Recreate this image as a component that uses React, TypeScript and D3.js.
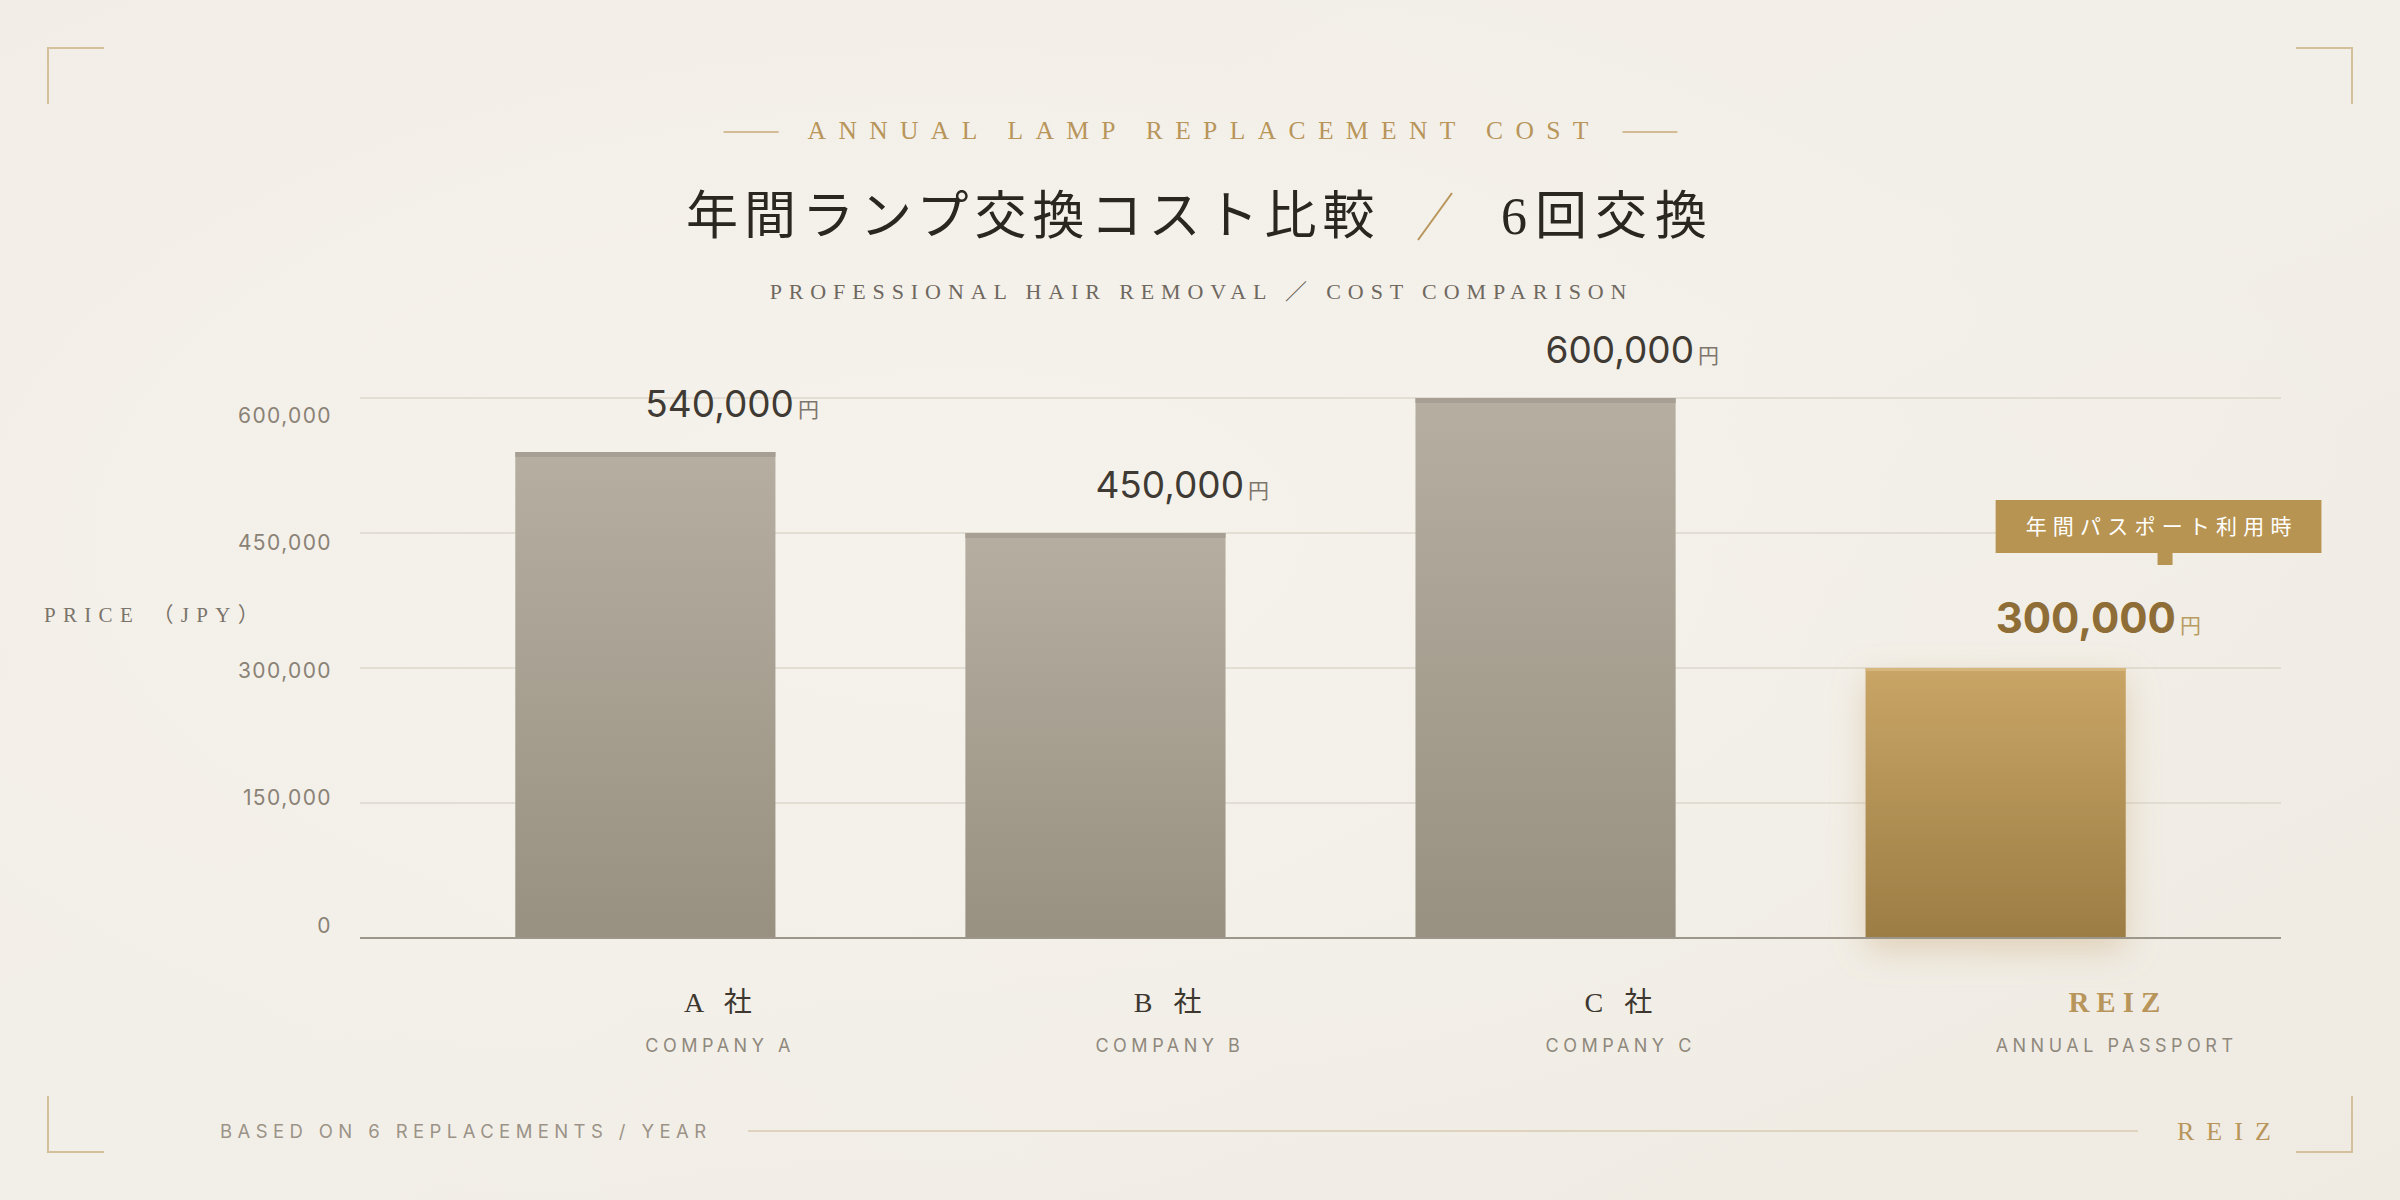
import React, { useEffect, useRef } from 'react';
import * as d3 from 'd3';

const categories = ['A 社', 'B 社', 'C 社', 'REIZ'];
const subLabels = ['COMPANY A', 'COMPANY B', 'COMPANY C', 'ANNUAL PASSPORT'];
const values = [540000, 450000, 600000, 300000];
const highlight = [false, false, false, true];
const yTicks = [0, 150000, 300000, 450000, 600000];
const unit = '円';
const badgeText = '年間パスポート利用時';
const eyebrow = 'ANNUAL LAMP REPLACEMENT COST';
const titleMain = '年間ランプ交換コスト比較';
const titleSub = '6回交換';
const subtitle = 'PROFESSIONAL HAIR REMOVAL ／ COST COMPARISON';
const yAxisTitle = 'PRICE （JPY）';
const footnote = 'BASED ON 6 REPLACEMENTS / YEAR';
const brand = 'REIZ';

const SANS = "Inter, 'Noto Sans CJK JP', sans-serif";
const SERIF = "'Liberation Serif', 'DejaVu Serif', 'Noto Sans CJK JP', serif";
const GOLD = '#b8955a';

export default function App() {
  const ref = useRef<SVGSVGElement>(null);

  useEffect(() => {
    const W = 2400;
    const H = 1200;
    const svg = d3.select(ref.current as SVGSVGElement);
    svg.selectAll('*').remove();

    const defs = svg.append('defs');
    const bg = defs.append('linearGradient').attr('id', 'bg').attr('x1', 0).attr('y1', 0).attr('x2', 1).attr('y2', 1);
    bg.append('stop').attr('offset', '0%').attr('stop-color', '#f2eee7');
    bg.append('stop').attr('offset', '50%').attr('stop-color', '#f2efe8');
    bg.append('stop').attr('offset', '100%').attr('stop-color', '#efebe3');
    const glow = defs.append('radialGradient').attr('id', 'glow').attr('cx', '40%').attr('cy', '45%').attr('r', '60%');
    glow.append('stop').attr('offset', '0%').attr('stop-color', '#f6f3ed').attr('stop-opacity', 0.8);
    glow.append('stop').attr('offset', '100%').attr('stop-color', '#f6f3ed').attr('stop-opacity', 0);

    const grayGrad = defs.append('linearGradient').attr('id', 'grayGrad').attr('x1', 0).attr('y1', 0).attr('x2', 0).attr('y2', 1);
    grayGrad.append('stop').attr('offset', '0%').attr('stop-color', '#b6aea1');
    grayGrad.append('stop').attr('offset', '100%').attr('stop-color', '#989181');
    const goldGrad = defs.append('linearGradient').attr('id', 'goldGrad').attr('x1', 0).attr('y1', 0).attr('x2', 0).attr('y2', 1);
    goldGrad.append('stop').attr('offset', '0%').attr('stop-color', '#c9a566');
    goldGrad.append('stop').attr('offset', '100%').attr('stop-color', '#9c7d44');
    const f = defs.append('filter').attr('id', 'goldShadow').attr('x', '-40%').attr('y', '-30%').attr('width', '180%').attr('height', '160%');
    f.append('feDropShadow').attr('dx', 0).attr('dy', 12).attr('stdDeviation', 17)
      .attr('flood-color', '#c4a06a').attr('flood-opacity', 0.38);

    svg.append('rect').attr('width', W).attr('height', H).attr('fill', 'url(#bg)');
    svg.append('rect').attr('width', W).attr('height', H).attr('fill', 'url(#glow)');

    // corner brackets
    const cornerColor = '#d4c19c';
    const cs = 56;
    const corners: [number, number, number, number][] = [
      [48, 48, 1, 1], [2352, 48, -1, 1], [48, 1152, 1, -1], [2352, 1152, -1, -1],
    ];
    svg.append('g').selectAll('path').data(corners).join('path')
      .attr('d', d => `M${d[0] + d[2] * cs},${d[1]} L${d[0]},${d[1]} L${d[0]},${d[1] + d[3] * cs}`)
      .attr('fill', 'none').attr('stroke', cornerColor).attr('stroke-width', 2);

    // Eyebrow
    const eyeLs = 12.4;
    const eye = svg.append('text').attr('x', 1198 + eyeLs / 2).attr('y', 130)
      .attr('text-anchor', 'middle').attr('dominant-baseline', 'central')
      .attr('font-family', SERIF).attr('font-size', 25.5).attr('letter-spacing', eyeLs)
      .attr('fill', GOLD).text(eyebrow);
    const ew = (eye.node() as SVGTextElement).getComputedTextLength() - eyeLs;
    const eStart = 1198 - ew / 2;
    const eEnd = 1198 + ew / 2;
    svg.append('line').attr('x1', eStart - 84).attr('x2', eStart - 29).attr('y1', 132).attr('y2', 132)
      .attr('stroke', '#c8ab78').attr('stroke-width', 1.5);
    svg.append('line').attr('x1', eEnd + 34).attr('x2', eEnd + 89).attr('y1', 132).attr('y2', 132)
      .attr('stroke', '#c8ab78').attr('stroke-width', 1.5);

    // Title
    svg.append('text').attr('x', 686).attr('y', 234)
      .attr('font-family', SERIF).attr('font-size', 52).attr('letter-spacing', 6)
      .attr('fill', '#2a2620').text(titleMain);
    svg.append('line').attr('x1', 1418).attr('y1', 240).attr('x2', 1452).attr('y2', 193)
      .attr('stroke', GOLD).attr('stroke-width', 2);
    svg.append('text').attr('x', 1501).attr('y', 234)
      .attr('font-family', SERIF).attr('font-size', 52).attr('letter-spacing', 8)
      .attr('fill', '#2a2620').text(titleSub);

    // Subtitle
    svg.append('text').attr('x', 1198 + 3.5).attr('y', 291)
      .attr('text-anchor', 'middle').attr('dominant-baseline', 'central')
      .attr('font-family', SERIF).attr('font-size', 22).attr('letter-spacing', 6.9)
      .attr('fill', '#6f685f').text(subtitle);

    // Scales
    const x = d3.scaleBand<string>().domain(categories).range([360, 2281]).paddingInner(0.422).paddingOuter(0.345);
    const y = d3.scaleLinear().domain([0, 600000]).range([938, 398]);
    const yLabel = d3.scaleLinear().domain([0, 600000]).range([925, 415]);
    const bw = x.bandwidth();
    const fmt = d3.format(',');

    // grid
    svg.append('g').selectAll('line').data(yTicks.filter(t => t > 0)).join('line')
      .attr('x1', 360).attr('x2', 2281).attr('y1', d => y(d)).attr('y2', d => y(d))
      .attr('stroke', '#ddd7cd').attr('stroke-width', 1.5);

    // tick labels
    svg.append('g').selectAll('text').data(yTicks).join('text')
      .attr('x', 332).attr('y', d => yLabel(d))
      .attr('text-anchor', 'end').attr('dominant-baseline', 'central')
      .attr('font-family', SANS).attr('font-size', 21).attr('letter-spacing', 1.4)
      .attr('fill', '#8a8276').text(d => fmt(d));

    // y axis title
    svg.append('text').attr('x', 44).attr('y', 615).attr('dominant-baseline', 'central')
      .attr('font-family', SERIF).attr('font-size', 21).attr('letter-spacing', 7.3)
      .attr('fill', '#7b746a').text(yAxisTitle);

    // bars
    const bars = svg.append('g');
    values.forEach((v, i) => {
      const c = categories[i];
      const bx = x(c) as number;
      const top = y(v);
      const hi = highlight[i];
      bars.append('rect').attr('x', bx).attr('y', top).attr('width', bw).attr('height', y(0) - top)
        .attr('fill', hi ? 'url(#goldGrad)' : 'url(#grayGrad)')
        .attr('filter', hi ? 'url(#goldShadow)' : null);
      bars.append('rect').attr('x', bx).attr('y', top).attr('width', bw).attr('height', hi ? 3 : 5)
        .attr('fill', hi ? '#d5b77e' : '#a79f93');
    });

    // baseline
    svg.append('line').attr('x1', 360).attr('x2', 2281).attr('y1', y(0)).attr('y2', y(0))
      .attr('stroke', '#9d968b').attr('stroke-width', 2);

    // value labels
    values.forEach((v, i) => {
      const c = categories[i];
      const cx = (x(c) as number) + bw / 2;
      const hi = highlight[i];
      const t = svg.append('text').attr('x', cx).attr('y', y(v) - 35).attr('font-family', SANS);
      t.append('tspan').attr('font-size', hi ? 42 : 37).attr('font-weight', hi ? 700 : 400)
        .attr('fill', hi ? '#8e6d37' : '#3f3a33').text(fmt(v));
      t.append('tspan').attr('dx', 4).attr('font-size', 21)
        .attr('fill', hi ? '#b99b64' : '#7d766c').text(unit);
    });

    // badge
    const hiIdx = highlight.indexOf(true);
    if (hiIdx >= 0) {
      const c = categories[hiIdx];
      const bx0 = (x(c) as number) + bw / 2;
      const boxTop = y(values[hiIdx]) - 168;
      const boxH = 53;
      const g = svg.append('g');
      const rect = g.append('rect').attr('x', bx0).attr('y', boxTop).attr('height', boxH).attr('fill', '#b89452');
      const ls = 6.2;
      const tt = g.append('text').attr('y', boxTop + boxH / 2).attr('text-anchor', 'middle')
        .attr('dominant-baseline', 'central').attr('font-family', SERIF).attr('font-size', 21)
        .attr('letter-spacing', ls).attr('fill', '#ffffff').text(badgeText);
      const tw = (tt.node() as SVGTextElement).getComputedTextLength() - ls;
      const boxW = tw + 60;
      rect.attr('width', boxW);
      tt.attr('x', bx0 + boxW / 2 + ls / 2);
      g.append('rect').attr('x', bx0 + boxW / 2 - 1).attr('y', boxTop + boxH).attr('width', 15).attr('height', 12)
        .attr('fill', '#b89452');
    }

    // x labels
    categories.forEach((c, i) => {
      const cx = (x(c) as number) + bw / 2;
      const hi = highlight[i];
      const subLs = 4.5;
      const sub = svg.append('text').attr('x', cx).attr('y', 1052)
        .attr('font-family', SANS).attr('font-size', 18).attr('letter-spacing', subLs)
        .attr('fill', '#8f887c').text(subLabels[i]);
      const w = (sub.node() as SVGTextElement).getComputedTextLength() - subLs;
      const mainLs = hi ? 7 : 7;
      svg.append('text').attr('x', cx + w / 2 + mainLs / 2).attr('y', 1012)
        .attr('text-anchor', 'middle').attr('font-family', SERIF).attr('font-size', hi ? 29 : 28)
        .attr('font-weight', hi ? 700 : 400).attr('letter-spacing', mainLs)
        .attr('fill', hi ? GOLD : '#3d3730').text(c);
    });

    // footer
    svg.append('text').attr('x', 220).attr('y', 1138)
      .attr('font-family', SANS).attr('font-size', 18.5).attr('letter-spacing', 5.4)
      .attr('fill', '#9b9387').text(footnote);
    svg.append('line').attr('x1', 748).attr('x2', 2138).attr('y1', 1131).attr('y2', 1131)
      .attr('stroke', '#e0d3bd').attr('stroke-width', 2);
    svg.append('text').attr('x', 2177).attr('y', 1140)
      .attr('font-family', SERIF).attr('font-size', 26).attr('letter-spacing', 12)
      .attr('fill', GOLD).text(brand);
  }, []);

  return (
    <svg ref={ref} width={2400} height={1200}
      style={{ position: 'absolute', left: 0, top: 0, display: 'block' }} />
  );
}
